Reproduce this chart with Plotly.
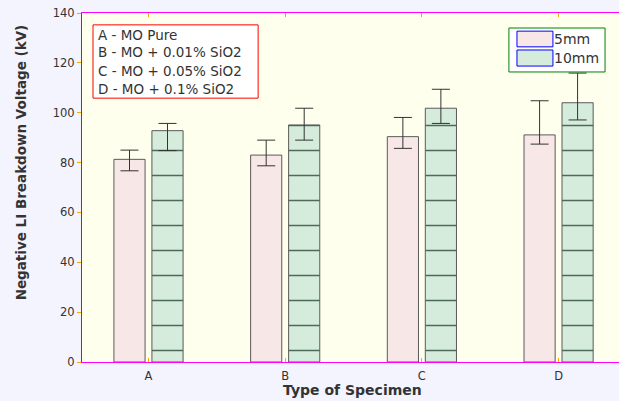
import plotly.graph_objects as go

# ---- data ----
categories = ["A", "B", "C", "D"]
series_names = ["5mm", "10mm"]
v5 = [81.3, 83.0, 90.4, 91.1]
v5_plus = [3.7, 6.0, 7.7, 13.7]
v5_minus = [4.6, 4.3, 4.7, 3.7]
v10 = [92.8, 95.1, 101.8, 104.0]
v10_plus = [2.9, 6.7, 7.6, 11.9]
v10_minus = [8.0, 6.1, 6.1, 6.9]
y_ticks = [0, 20, 40, 60, 80, 100, 120, 140]
notes = ["A - MO Pure", "B - MO + 0.01% SiO2", "C - MO + 0.05% SiO2", "D - MO + 0.1% SiO2"]

# ---- styles ----
pink = "#f7e7e7"
green = "#d5ebdc"
edge = "#5a5a5a"
hatch = "#4d6a57"
errc = "#333333"
font = "DejaVu Sans"

fig = go.Figure()
fig.add_trace(go.Bar(
    x=categories, y=v5, name=series_names[0],
    marker=dict(color=pink, line=dict(color=edge, width=1)),
    error_y=dict(type="data", symmetric=False, array=v5_plus, arrayminus=v5_minus,
                 color=errc, thickness=1, width=9),
))
fig.add_trace(go.Bar(
    x=categories, y=v10, name=series_names[1],
    marker=dict(color=green, line=dict(color=edge, width=1),
                pattern=dict(shape="-", size=25, solidity=0.06, fgcolor=hatch,
                             bgcolor=green, fillmode="replace")),
    error_y=dict(type="data", symmetric=False, array=v10_plus, arrayminus=v10_minus,
                 color=errc, thickness=1, width=9),
))

fig.update_layout(
    width=619, height=401,
    margin=dict(l=82, r=0, t=13, b=39),
    paper_bgcolor="#f4f4ff", plot_bgcolor="#ffffee",
    barmode="group", bargap=0.444, bargroupgap=0.18,
    showlegend=False, hovermode=False, dragmode=False,
    font=dict(family=font, color="#333333", size=11.5),
)
fig.update_xaxes(
    range=[-0.4865, 3.442], showline=True, linecolor="magenta", linewidth=1,
    mirror="ticks", ticks="inside", ticklen=4, tickcolor="orange",
    showgrid=False, zeroline=False, ticklabelstandoff=3, showspikes=False,
    tickfont=dict(family=font, size=11.5, color="#333333"),
)
fig.update_yaxes(
    range=[0, 140], tickvals=y_ticks, showline=True, linecolor="brown", linewidth=1,
    mirror=False, ticks="outside", ticklen=4, tickcolor="orange", showgrid=False,
    zeroline=False, showspikes=False,
    tickfont=dict(family=font, size=11.5, color="#333333"),
)

# axis titles
fig.add_annotation(text="<b>Negative LI Breakdown Voltage (kV)</b>", xref="paper", yref="paper",
                   x=-0.1136, y=0.572, xanchor="center", yanchor="middle", textangle=-90,
                   showarrow=False, font=dict(family=font, size=13.5, color="#333333"))
fig.add_annotation(text="<b>Type of Specimen</b>", xref="paper", yref="paper",
                   x=0.503, y=-0.080, xanchor="center", yanchor="middle",
                   showarrow=False, font=dict(family=font, size=14, color="#333333"))

# note box (top-left)
fig.add_shape(type="rect", xref="paper", yref="paper", x0=0.0205, x1=0.328, y0=0.756, y1=0.966,
              line=dict(color="red", width=1), fillcolor="white", layer="above")
note_y = [0.938, 0.887, 0.833, 0.782]
for t, yy in zip(notes, note_y):
    fig.add_annotation(text=t, xref="paper", yref="paper", x=0.026, y=yy,
                       xanchor="left", yanchor="middle", showarrow=False,
                       font=dict(family=font, size=13.5, color="#333333"))

# custom legend (top-right)
fig.add_shape(type="rect", xref="paper", yref="paper", x0=0.795, x1=0.974, y0=0.831, y1=0.957,
              line=dict(color="green", width=1), fillcolor="white", layer="above")
sw = [(0.948, 0.903, pink), (0.894, 0.848, green)]
for (ytop, ybot, col), name in zip(sw, series_names):
    fig.add_shape(type="rect", xref="paper", yref="paper", x0=0.810, x1=0.877, y0=ybot, y1=ytop,
                  line=dict(color="blue", width=1), fillcolor=col, layer="above")
    fig.add_annotation(text=name, xref="paper", yref="paper", x=0.876, y=(ytop + ybot) / 2,
                       xanchor="left", yanchor="middle", showarrow=False,
                       font=dict(family=font, size=14, color="#333333"))

fig.write_html(
    "out.html",
    config={"displayModeBar": False, "staticPlot": True},
    post_script="document.body.style.margin='0';document.body.style.overflow='hidden';"
                "document.documentElement.style.overflow='hidden';",
)
